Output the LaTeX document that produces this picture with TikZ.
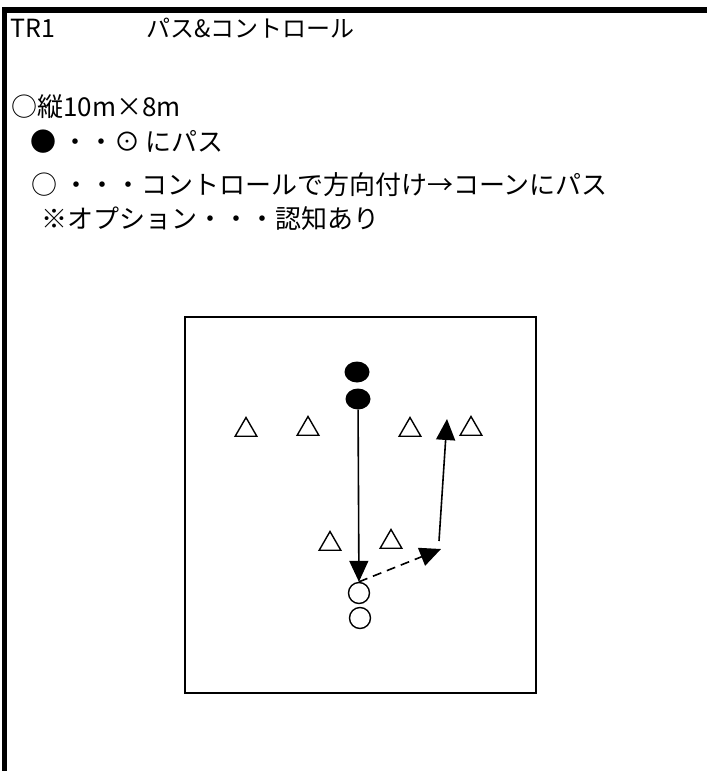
\documentclass[tikz,border=0pt]{standalone}
\usepackage{fontspec}
\setmainfont{Noto Sans CJK JP}
\usetikzlibrary{shapes.geometric,arrows.meta}

\begin{document}
\begin{tikzpicture}[x=1pt, y=-1pt, >={Triangle[length=21pt,width=19pt]},
    player/.style={ellipse, fill=black, minimum width=25pt, minimum height=21pt, inner sep=0pt},
    receiver/.style={circle, draw, line width=1.4pt, minimum size=21pt, inner sep=0pt},
    cone/.style={regular polygon, regular polygon sides=3, draw, line width=1.4pt, minimum size=25pt, inner sep=0pt},
    txt/.style={anchor=base west, inner sep=0pt, font=\fontsize{26}{30}\selectfont},
    pass/.style={line width=1.6pt, ->}]
    \useasboundingbox (0,0) rectangle (707,771);

    % frame of the sheet
    \draw[line width=6pt] (2,10) -- (707,10);
    \draw[line width=5pt] (4.5,7) -- (4.5,771);

    % heading and notes
    \node[txt, font=\fontsize{25}{30}\selectfont] (title) at (10,37) {TR1};
    \node[txt, font=\fontsize{24}{30}\selectfont] (name) at (146,37) {パス\&コントロール};
    \node[txt] (size) at (11,116) {○縦10m×8m};
    \node[txt] (rule1) at (30,151) {● ・・⊙ にパス};
    \node[txt] (rule2) at (31,194) {○ ・・・コントロールで方向付け→コーンにパス};
    \node[txt] (rule3) at (41,228) {※オプション・・・認知あり};

    % field
    \draw[line width=2pt] (185,317) rectangle (536,693);

    % players
    \node[player] (p1) at (357,372) {};
    \node[player] (p2) at (358,399) {};
    \node[receiver] (r1) at (359,593) {};
    \node[receiver] (r2) at (360,618) {};

    % cones
    \foreach \name/\x/\y in {c1/246/430, c2/308/429, c3/410/430,
                             c4/471/429, c5/330/544, c6/391/542}
      \node[cone] (\name) at (\x,\y) {};

    % passes
    \coordinate (d1) at (441,549);
    \coordinate (k1) at (439,541);
    \coordinate (k2) at (447,419);
    \draw[pass] (p2) -- (r1);
    \draw[pass, dash pattern=on 9pt off 6pt] (r1.north) -- (d1);
    \draw[pass] (k1) -- (k2);
\end{tikzpicture}
\end{document}
